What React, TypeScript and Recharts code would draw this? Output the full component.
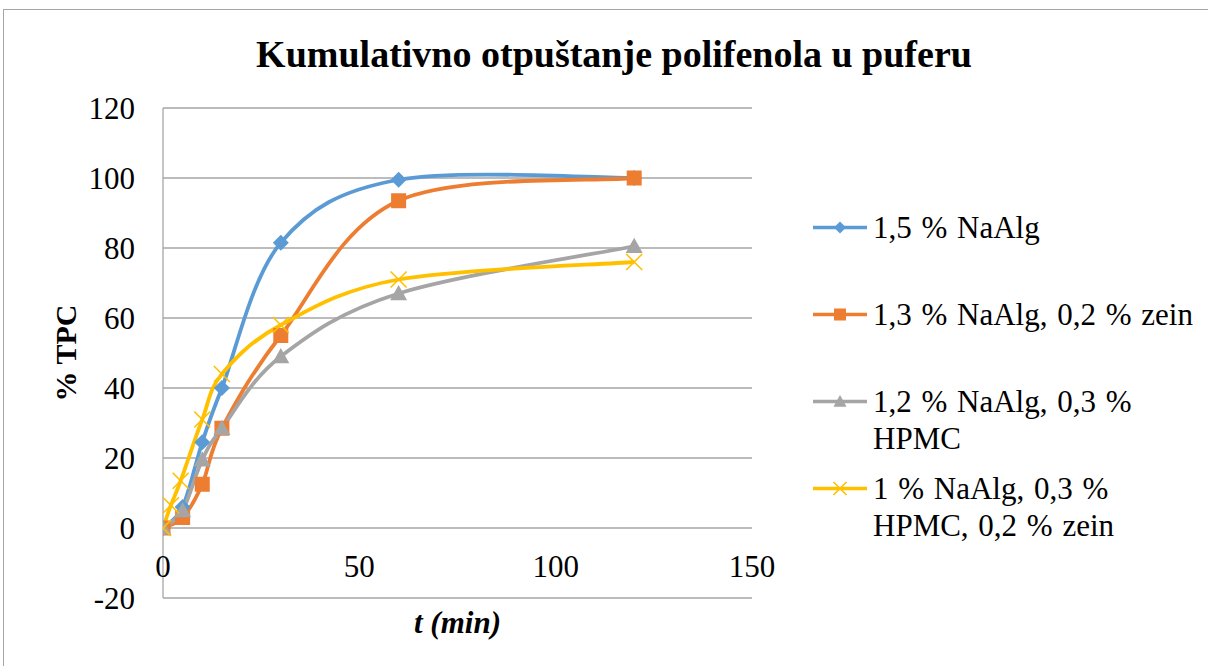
import React from "react";
import { LineChart, Line, XAxis, YAxis, CartesianGrid, Legend, Label } from "recharts";

const FONT = '"Liberation Serif", "Times New Roman", serif';
const GRID = "#A6A6A6";

const title = "Kumulativno otpuštanje polifenola u puferu";
const xTitle = "t (min)";
const yTitle = "% TPC";

const xTicks = [0, 50, 100, 150];
const yTicks = [-20, 0, 20, 40, 60, 80, 100, 120];

const names = [
  ["1,5 % NaAlg"],
  ["1,3 % NaAlg, 0,2 % zein"],
  ["1,2 % NaAlg, 0,3 %", "HPMC"],
  ["1 % NaAlg, 0,3 %", "HPMC, 0,2 % zein"],
];
const colors = ["#5B9BD5", "#ED7D31", "#A5A5A5", "#FFC000"];

// time points (min) and % TPC for each formulation
const tBlue = [0, 5, 10, 15, 30, 60, 120];
const vBlue = [0, 6, 24.5, 40, 81.5, 99.5, 100];
const tOrange = [0, 5, 10, 15, 30, 60, 120];
const vOrange = [0, 3, 12.5, 28.5, 55, 93.5, 100];
const tGray = [0, 5, 10, 15, 30, 60, 120];
const vGray = [0, 5, 19.5, 28.5, 49, 67, 80.5];
const tYellow = [0, 2, 4.5, 10, 15, 30, 60, 120];
const vYellow = [0, 6.5, 13.5, 31, 44, 58, 71, 76];

const zip = (t: number[], v: number[]) => t.map((x, i) => ({ t: x, v: v[i] }));
const series = [zip(tBlue, vBlue), zip(tOrange, vOrange), zip(tGray, vGray), zip(tYellow, vYellow)];

// Excel-like smoothed line (cardinal spline through the points)
function smooth(context: any) {
  let pts: number[][] = [];
  return {
    areaStart() {},
    areaEnd() {},
    lineStart() {
      pts = [];
    },
    point(x: number, y: number) {
      pts.push([+x, +y]);
    },
    lineEnd() {
      if (!pts.length) return;
      context.moveTo(pts[0][0], pts[0][1]);
      for (let i = 0; i < pts.length - 1; i++) {
        const p0 = pts[i - 1] || pts[i];
        const p1 = pts[i];
        const p2 = pts[i + 1];
        const p3 = pts[i + 2] || p2;
        context.bezierCurveTo(
          p1[0] + (p2[0] - p0[0]) / 6,
          p1[1] + (p2[1] - p0[1]) / 6,
          p2[0] - (p3[0] - p1[0]) / 6,
          p2[1] - (p3[1] - p1[1]) / 6,
          p2[0],
          p2[1]
        );
      }
    },
  };
}

function Marker({ kind, cx, cy, s, color }: { kind: number; cx: number; cy: number; s: number; color: string }) {
  if (kind === 0)
    return <path d={`M${cx},${cy - s}L${cx + s},${cy}L${cx},${cy + s}L${cx - s},${cy}Z`} fill={color} />;
  if (kind === 1) return <rect x={cx - s} y={cy - s} width={2 * s} height={2 * s} fill={color} />;
  if (kind === 2)
    return <path d={`M${cx},${cy - s}L${cx + s},${cy + s * 0.8}L${cx - s},${cy + s * 0.8}Z`} fill={color} />;
  return (
    <path
      d={`M${cx - s},${cy - s}L${cx + s},${cy + s}M${cx - s},${cy + s}L${cx + s},${cy - s}`}
      stroke={color}
      strokeWidth={1.6}
      fill="none"
    />
  );
}

const dotSizes = [8, 7.5, 8.5, 8];
const legendSizes = [6, 6, 6.5, 6.5];

const makeDot = (k: number) => (p: any) => {
  if (p.cx == null || p.cy == null) return <g key={`e${k}-${p.index}`} />;
  return (
    <g key={`m${k}-${p.index}`}>
      <Marker kind={k} cx={p.cx} cy={p.cy} s={dotSizes[k]} color={colors[k]} />
    </g>
  );
};

const XTick = (p: any) => (
  <text x={p.x} y={p.y - 21} textAnchor="middle" fontFamily={FONT} fontSize={31} fill="#000">
    {p.payload.value}
  </text>
);

const YLabel = (p: any) => {
  const vb = p.viewBox ?? { x: 0, y: 108, width: 163, height: 490 };
  const cx = vb.x + 65;
  const cy = vb.y + vb.height / 2;
  return (
    <text
      x={cx}
      y={cy}
      transform={`rotate(-90 ${cx} ${cy})`}
      textAnchor="middle"
      dominantBaseline="central"
      fontFamily={FONT}
      fontSize={30}
      fontWeight="bold"
      fill="#000"
    >
      {yTitle}
    </text>
  );
};

const XLabel = (p: any) => {
  const vb = p.viewBox ?? { x: 163, y: 598, width: 589, height: 68 };
  return (
    <text
      x={vb.x + vb.width / 2}
      y={vb.y + 24}
      textAnchor="middle"
      dominantBaseline="central"
      fontFamily={FONT}
      fontSize={31}
      fontWeight="bold"
      fontStyle="italic"
      fill="#000"
    >
      {xTitle}
    </text>
  );
};

const LegendBox = () => (
  <div style={{ fontFamily: FONT, fontSize: 31, lineHeight: "37px", color: "#000" }}>
    {names.map((lines, k) => (
      <div key={k} style={{ height: 87, display: "flex", alignItems: "flex-start" }}>
        <svg width={60} height={37} style={{ flex: "none" }}>
          <line x1={0} x2={54} y1={18.5} y2={18.5} stroke={colors[k]} strokeWidth={3.5} />
          <Marker kind={k} cx={27} cy={18.5} s={legendSizes[k]} color={colors[k]} />
        </svg>
        <div style={{ whiteSpace: "nowrap", wordSpacing: 2 }}>
          {lines.map((l, j) => (
            <div key={j}>{l}</div>
          ))}
        </div>
      </div>
    ))}
  </div>
);

export default function App() {
  return (
    <div style={{ position: "relative", width: 1208, height: 666, overflow: "hidden", background: "#fff" }}>
      <style>{"body{margin:0}"}</style>
      <div
        style={{
          position: "absolute",
          left: 3,
          top: 9,
          width: 1220,
          height: 680,
          border: "1.5px solid #A6A6A6",
          boxSizing: "border-box",
        }}
      />
      <div
        style={{
          position: "absolute",
          left: 0,
          top: 31,
          width: 1228,
          textAlign: "center",
          fontFamily: FONT,
          fontSize: 38,
          fontWeight: "bold",
          lineHeight: "46px",
        }}
      >
        {title}
      </div>
      <div style={{ position: "absolute", left: 0, top: 0 }}>
        <LineChart width={1208} height={666} margin={{ top: 108, right: 456, bottom: 0, left: 0 }}>
          <CartesianGrid vertical={false} stroke={GRID} strokeWidth={1.3} />
          <XAxis
            type="number"
            dataKey="t"
            domain={[0, 150]}
            ticks={xTicks}
            allowDataOverflow
            height={68}
            axisLine={false}
            tickLine={false}
            tickSize={0}
            tickMargin={0}
            tick={XTick}
          >
            <Label content={XLabel} />
          </XAxis>
          <YAxis
            type="number"
            domain={[-20, 120]}
            ticks={yTicks}
            width={163}
            axisLine={{ stroke: GRID, strokeWidth: 1.3 }}
            tickLine={false}
            tickSize={0}
            tickMargin={28}
            tick={{ fontFamily: FONT, fontSize: 31, fill: "#000" }}
          >
            <Label content={YLabel} />
          </YAxis>
          {series.map((d, k) => (
            <Line
              key={k}
              data={d}
              dataKey="v"
              name={names[k].join(" ")}
              type={smooth as any}
              stroke={colors[k]}
              strokeWidth={3.8}
              dot={makeDot(k)}
              activeDot={false}
              isAnimationActive={false}
            />
          ))}
          <Legend
            layout="vertical"
            align="center"
            verticalAlign="middle"
            wrapperStyle={{ left: 813, top: 209, width: 395 }}
            content={LegendBox}
          />
        </LineChart>
      </div>
    </div>
  );
}
